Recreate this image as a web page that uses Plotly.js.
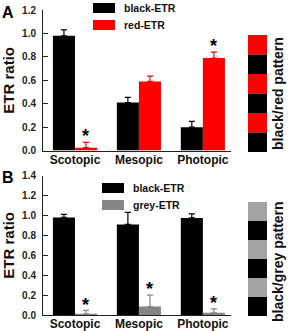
<!DOCTYPE html>
<html>
<head>
<meta charset="utf-8">
<script src="https://cdn.plot.ly/plotly-3.0.1.min.js"></script>
<style>html,body{margin:0;padding:0;background:#fff;}#chart{width:289px;height:331px;}</style>
</head>
<body>
<div id="chart"></div>
<script>
// ---- data ----
var categories = ["Scotopic", "Mesopic", "Photopic"];
var seriesNamesA = ["black-ETR", "red-ETR"];
var blackA = [0.98, 0.41, 0.20];
var blackAErr = [0.05, 0.045, 0.05];
var redA = [0.025, 0.59, 0.79];
var redAErr = [0.045, 0.045, 0.05];
var starPosA = [[0, 0.07], [2, 0.84]]; // [category index, top of error bar] for "*"
var seriesNamesB = ["black-ETR", "grey-ETR"];
var blackB = [0.98, 0.91, 0.975];
var blackBErr = [0.03, 0.12, 0.04];
var greyB = [0.012, 0.085, 0.022];
var greyBErr = [0.035, 0.115, 0.04];
var starPosB = [[0, 0.045], [1, 0.20], [2, 0.062]];
var yTicksA = [0, 0.2, 0.4, 0.6, 0.8, 1.0, 1.2];
var yTicksB = [0, 0.2, 0.4, 0.6, 0.8, 1.0, 1.2, 1.4];
var patternA = ["red", "black", "red", "black", "red", "black"];
var patternB = ["grey", "black", "grey", "black", "grey", "black"];
var patternLabels = ["black/red pattern", "black/grey pattern"];
var panelLabels = ["A", "B"];

var COL = {black: "#000000", red: "#ff0000", grey: "#858585", patgrey: "#a3a3a3"};
var FONT = "Liberation Sans, Arial, sans-serif";

function barTrace(y, err, color, xa, ya, name) {
  return {
    type: "bar", x: categories, y: y, name: name,
    xaxis: xa, yaxis: ya, showlegend: false,
    marker: {color: color, line: {color: color, width: 0}},
    error_y: {type: "data", array: err, symmetric: false, arrayminus: err.map(function(){return 0;}),
      color: color, thickness: 1.2, width: 3}
  };
}

var data = [
  barTrace(blackA, blackAErr, COL.black, "x", "y", seriesNamesA[0]),
  barTrace(redA, redAErr, COL.red, "x", "y", seriesNamesA[1]),
  barTrace(blackB, blackBErr, COL.black, "x2", "y2", seriesNamesB[0]),
  barTrace(greyB, greyBErr, COL.grey, "x2", "y2", seriesNamesB[1])
];

var tickFont = {family: FONT, size: 10, color: "#222", weight: "bold"};
var catFont = {family: FONT, size: 12, color: "#111", weight: "bold"};
function xax(anchor) {
  return {anchor: anchor, domain: [0, 1], range: [-0.5, 2.44], showline: true, linecolor: "#222", linewidth: 1,
    ticks: "", tickfont: catFont, showgrid: false, zeroline: false, fixedrange: true, ticklabelstandoff: -2};
}
function yax(anchor, dom, rng, tv) {
  return {anchor: anchor, domain: dom, range: rng, tickvals: tv, ticktext: tv.map(function(v){return v.toFixed(1);}),
    showline: true, linecolor: "#222", linewidth: 1, ticks: "inside", ticklen: 5, tickwidth: 1, tickcolor: "#222",
    tickfont: tickFont, showgrid: false, zeroline: false, fixedrange: true, ticklabelstandoff: 4,
    title: {text: "ETR ratio", font: {family: FONT, size: 15, color: "#111", weight: "bold"}, standoff: 5}};
}

var shapes = [], annotations = [];
// paper coords: plot area x 43..231 px, y 10..315 px
function px(p) { return (p - 43) / 188; }
function py(p) { return (315 - p) / 305; }
function addPattern(pat, yTop, yBot) {
  var n = pat.length;
  for (var i = 0; i < n; i++) {
    var c = pat[i] === "grey" ? COL.patgrey : COL[pat[i]];
    shapes.push({type: "rect", xref: "paper", yref: "paper", x0: px(248), x1: px(267),
      y0: py(yTop + (yBot - yTop) * (i + 1) / n), y1: py(yTop + (yBot - yTop) * i / n),
      fillcolor: c, line: {width: 0}});
  }
}
addPattern(patternA, 35, 152);
addPattern(patternB, 202, 316);
annotations.push({xref: "paper", yref: "paper", x: px(278), y: py(94), text: patternLabels[0], textangle: -90,
  xanchor: "center", yanchor: "middle",
  showarrow: false, font: {family: FONT, size: 14, color: "#111", weight: "bold"}});
annotations.push({xref: "paper", yref: "paper", x: px(278), y: py(262), text: patternLabels[1], textangle: -90,
  xanchor: "center", yanchor: "middle",
  showarrow: false, font: {family: FONT, size: 14, color: "#111", weight: "bold"}});
// panel labels
annotations.push({xref: "paper", yref: "paper", x: px(0), y: py(12), text: panelLabels[0], showarrow: false,
  xanchor: "left", yanchor: "middle", font: {family: FONT, size: 16, color: "#000", weight: "bold"}});
annotations.push({xref: "paper", yref: "paper", x: px(0), y: py(177), text: panelLabels[1], showarrow: false,
  xanchor: "left", yanchor: "middle", font: {family: FONT, size: 16, color: "#000", weight: "bold"}});
// legends
function addLegend(names, colors, x0, yTop) {
  for (var i = 0; i < names.length; i++) {
    var yt = yTop + i * 17;
    shapes.push({type: "rect", xref: "paper", yref: "paper", x0: px(x0), x1: px(x0 + 22),
      y0: py(yt + 10), y1: py(yt), fillcolor: colors[i], line: {width: 0}});
    annotations.push({xref: "paper", yref: "paper", x: px(x0 + 29), y: py(yt + 5), xanchor: "left", yanchor: "middle",
      text: names[i], showarrow: false, font: {family: FONT, size: 10.5, color: "#111", weight: "bold"}});
  }
}
addLegend(seriesNamesA, [COL.black, COL.red], 93, 3);
addLegend(seriesNamesB, [COL.black, COL.grey], 102, 183);
// stars over the second bar of each group
function addStars(list, xa, ya) {
  list.forEach(function(s) {
    annotations.push({xref: xa, yref: ya, x: s[0] + 0.17, y: s[1], text: "*", showarrow: false,
      yanchor: "bottom", yshift: -6, font: {family: FONT, size: 18, color: "#000", weight: "bold"}});
  });
}
addStars(starPosA, "x", "y");
addStars(starPosB, "x2", "y2");

var layout = {
  width: 289, height: 331, margin: {l: 43, r: 58, t: 10, b: 16},
  paper_bgcolor: "#fff", plot_bgcolor: "#fff",
  barmode: "group", bargap: 0.31, bargroupgap: 0,
  xaxis: xax("y"), yaxis: yax("x", [0.539, 1], [0, 1.2], yTicksA),
  xaxis2: xax("y2"), yaxis2: yax("x2", [0, 0.457], [0, 1.4], yTicksB),
  shapes: shapes, annotations: annotations, showlegend: false
};
Plotly.newPlot("chart", data, layout, {displayModeBar: false, staticPlot: true});
</script>
</body>
</html>
